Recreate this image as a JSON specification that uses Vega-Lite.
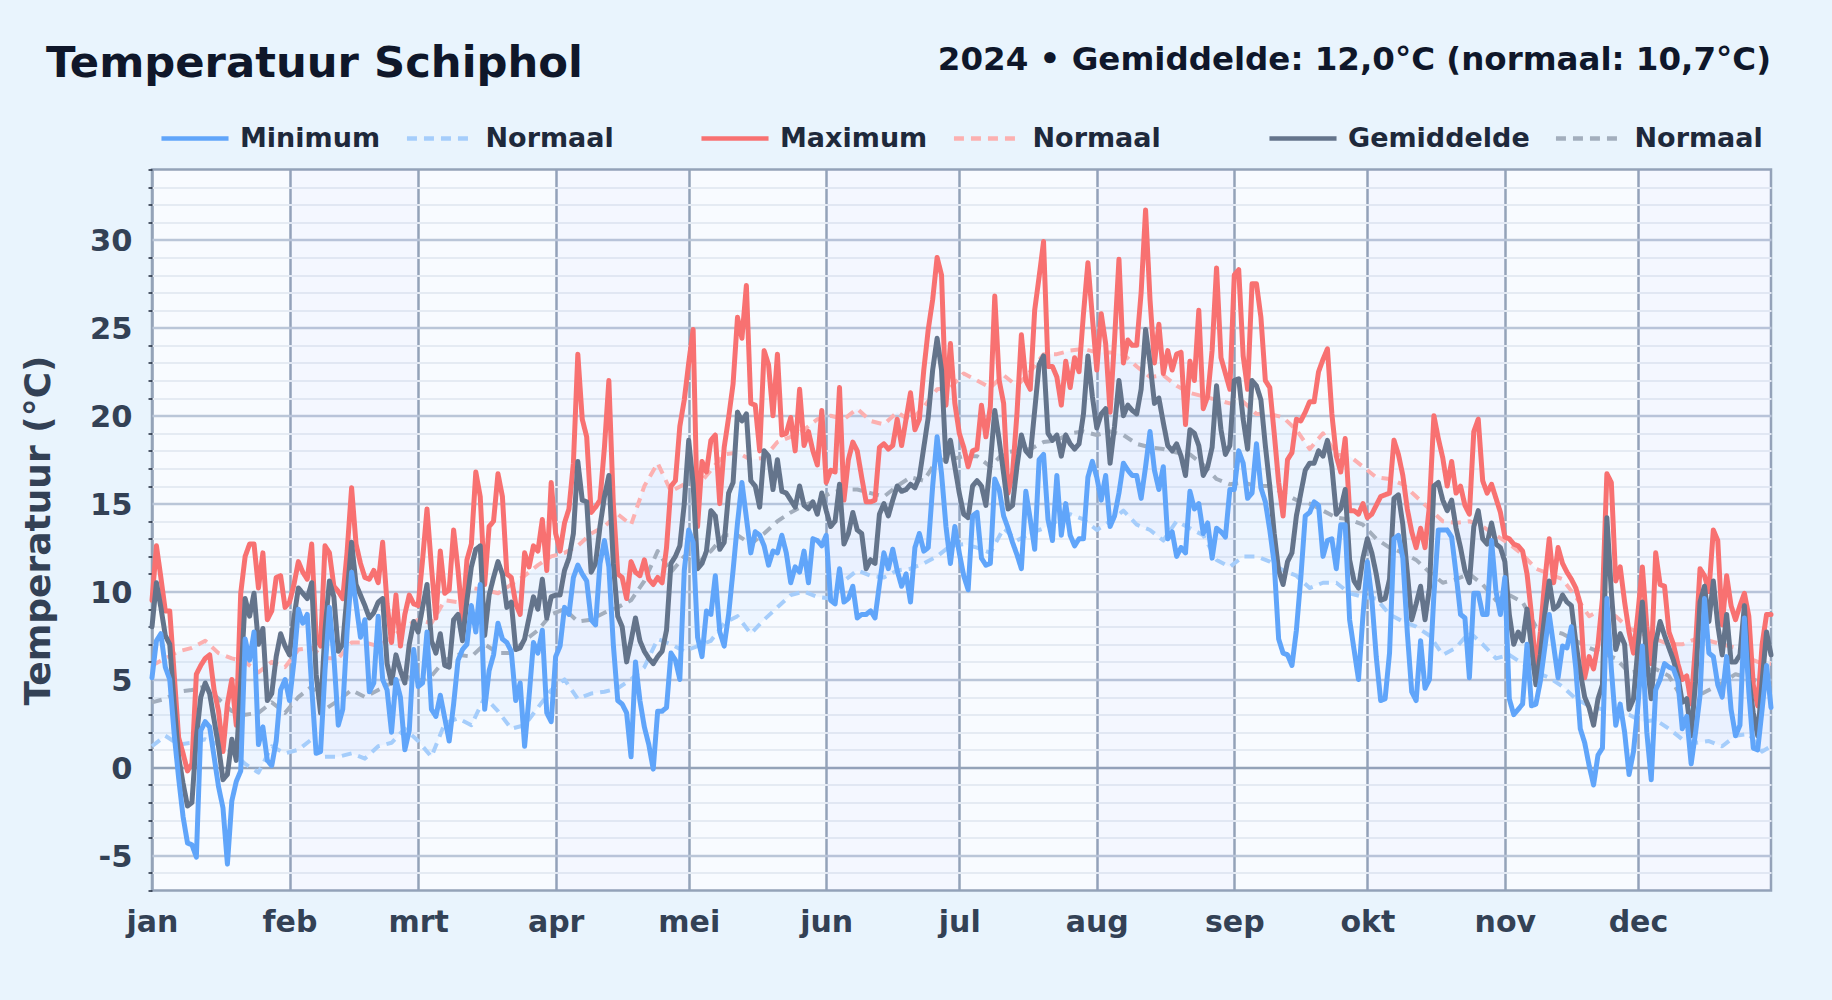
{"$schema":"https://vega.github.io/schema/vega-lite/v6.json","width":1619,"height":721,"autosize":{"type":"none"},"padding":{"left":152,"top":169.5,"right":61,"bottom":109.5},"background":"#e9f4fd","title":{"text":"Temperatuur Schiphol","anchor":"start","frame":"group","dx":-106,"offset":0,"dy":43,"font":"DejaVu Sans","fontSize":43.3,"fontWeight":"bold","color":"#0f172a"},"config":{"view":{"fill":"#f8fbff","stroke":"#94a3b8","strokeWidth":2.5},"font":"DejaVu Sans"},"datasets":{"maanden":[{"van":31,"tot":60},{"van":91,"tot":121},{"van":152,"tot":182},{"van":213,"tot":244},{"van":274,"tot":305},{"van":335,"tot":365}],"koptekst":[{"tekst":"2024 • Gemiddelde: 12,0°C (normaal: 10,7°C)"}],"normaal":[{"dag":0,"Normaal min":1.2,"Normaal max":5.8,"Normaal gem":3.7},{"dag":3,"Normaal min":1.8,"Normaal max":6.2,"Normaal gem":3.9},{"dag":6,"Normaal min":1.3,"Normaal max":6.6,"Normaal gem":4.3},{"dag":9,"Normaal min":1.4,"Normaal max":6.8,"Normaal gem":4.4},{"dag":12,"Normaal min":1.6,"Normaal max":7.2,"Normaal gem":4.6},{"dag":15,"Normaal min":1.3,"Normaal max":6.5,"Normaal gem":3.9},{"dag":18,"Normaal min":0.9,"Normaal max":6.2,"Normaal gem":3.2},{"dag":21,"Normaal min":0.2,"Normaal max":6,"Normaal gem":3},{"dag":24,"Normaal min":-0.3,"Normaal max":5.4,"Normaal gem":3.1},{"dag":27,"Normaal min":1.2,"Normaal max":6,"Normaal gem":3.7},{"dag":30,"Normaal min":0.8,"Normaal max":5.7,"Normaal gem":3.1},{"dag":33,"Normaal min":1,"Normaal max":6.7,"Normaal gem":4},{"dag":36,"Normaal min":1.6,"Normaal max":6.8,"Normaal gem":4.6},{"dag":39,"Normaal min":0.6,"Normaal max":6.2,"Normaal gem":3.3},{"dag":42,"Normaal min":0.6,"Normaal max":6.2,"Normaal gem":3.8},{"dag":45,"Normaal min":0.8,"Normaal max":7.1,"Normaal gem":4.4},{"dag":48,"Normaal min":0.5,"Normaal max":7.1,"Normaal gem":4},{"dag":51,"Normaal min":1.2,"Normaal max":6.9,"Normaal gem":4.4},{"dag":54,"Normaal min":1.4,"Normaal max":7.4,"Normaal gem":4.8},{"dag":57,"Normaal min":2.2,"Normaal max":8,"Normaal gem":5.2},{"dag":60,"Normaal min":1.5,"Normaal max":8.4,"Normaal gem":4.9},{"dag":63,"Normaal min":0.6,"Normaal max":8.2,"Normaal gem":5.2},{"dag":66,"Normaal min":2.5,"Normaal max":9.5,"Normaal gem":6.1},{"dag":69,"Normaal min":2.8,"Normaal max":9.4,"Normaal gem":6.4},{"dag":72,"Normaal min":2.4,"Normaal max":10.2,"Normaal gem":6.3},{"dag":75,"Normaal min":4,"Normaal max":10.1,"Normaal gem":7},{"dag":78,"Normaal min":3.2,"Normaal max":9.9,"Normaal gem":6.5},{"dag":81,"Normaal min":2.2,"Normaal max":10.4,"Normaal gem":6.5},{"dag":84,"Normaal min":2.4,"Normaal max":10.9,"Normaal gem":7.2},{"dag":87,"Normaal min":3.4,"Normaal max":11.5,"Normaal gem":7.8},{"dag":90,"Normaal min":4.4,"Normaal max":12,"Normaal gem":8.7},{"dag":93,"Normaal min":5,"Normaal max":12.2,"Normaal gem":9},{"dag":96,"Normaal min":3.9,"Normaal max":12.6,"Normaal gem":8.3},{"dag":99,"Normaal min":4.2,"Normaal max":13.3,"Normaal gem":8.4},{"dag":102,"Normaal min":4.3,"Normaal max":13.7,"Normaal gem":8.8},{"dag":105,"Normaal min":4.5,"Normaal max":14.4,"Normaal gem":9.1},{"dag":108,"Normaal min":5,"Normaal max":13.8,"Normaal gem":9.5},{"dag":111,"Normaal min":5.7,"Normaal max":16,"Normaal gem":10.6},{"dag":114,"Normaal min":7.3,"Normaal max":17.3,"Normaal gem":12.3},{"dag":117,"Normaal min":7,"Normaal max":15.7,"Normaal gem":11.1},{"dag":120,"Normaal min":6.6,"Normaal max":16.1,"Normaal gem":12},{"dag":123,"Normaal min":6.9,"Normaal max":16,"Normaal gem":11.6},{"dag":126,"Normaal min":7.2,"Normaal max":16.9,"Normaal gem":12.3},{"dag":129,"Normaal min":8.2,"Normaal max":17.8,"Normaal gem":13.2},{"dag":132,"Normaal min":8.6,"Normaal max":17.9,"Normaal gem":13.2},{"dag":135,"Normaal min":7.6,"Normaal max":17.5,"Normaal gem":12.7},{"dag":138,"Normaal min":8.4,"Normaal max":17.6,"Normaal gem":13.3},{"dag":141,"Normaal min":9.1,"Normaal max":18.5,"Normaal gem":14},{"dag":144,"Normaal min":9.8,"Normaal max":18.8,"Normaal gem":14.5},{"dag":147,"Normaal min":10,"Normaal max":19.2,"Normaal gem":14.9},{"dag":150,"Normaal min":9.7,"Normaal max":19.8,"Normaal gem":15.2},{"dag":153,"Normaal min":9.6,"Normaal max":20,"Normaal gem":15.6},{"dag":156,"Normaal min":10.6,"Normaal max":19.8,"Normaal gem":15.8},{"dag":159,"Normaal min":11.2,"Normaal max":20.4,"Normaal gem":15.8},{"dag":162,"Normaal min":10.9,"Normaal max":19.7,"Normaal gem":15.6},{"dag":165,"Normaal min":10.8,"Normaal max":19.5,"Normaal gem":15.4},{"dag":168,"Normaal min":11.2,"Normaal max":20.2,"Normaal gem":16},{"dag":171,"Normaal min":11.3,"Normaal max":19.7,"Normaal gem":16.5},{"dag":174,"Normaal min":11.6,"Normaal max":20.5,"Normaal gem":16.3},{"dag":177,"Normaal min":12,"Normaal max":21.5,"Normaal gem":17.5},{"dag":180,"Normaal min":12.6,"Normaal max":21.6,"Normaal gem":17.5},{"dag":183,"Normaal min":12.7,"Normaal max":22.4,"Normaal gem":17.7},{"dag":186,"Normaal min":12.5,"Normaal max":22,"Normaal gem":17.7},{"dag":189,"Normaal min":12.2,"Normaal max":21.6,"Normaal gem":17.1},{"dag":192,"Normaal min":13.6,"Normaal max":22.3,"Normaal gem":17.9},{"dag":195,"Normaal min":12.9,"Normaal max":21.7,"Normaal gem":18},{"dag":198,"Normaal min":13.3,"Normaal max":22.5,"Normaal gem":18.1},{"dag":201,"Normaal min":13.6,"Normaal max":23.5,"Normaal gem":18.5},{"dag":204,"Normaal min":14,"Normaal max":23.5,"Normaal gem":18.6},{"dag":207,"Normaal min":14.4,"Normaal max":23.7,"Normaal gem":19},{"dag":210,"Normaal min":14.1,"Normaal max":23.8,"Normaal gem":19.1},{"dag":213,"Normaal min":13.5,"Normaal max":23.6,"Normaal gem":18.9},{"dag":216,"Normaal min":14,"Normaal max":23.6,"Normaal gem":19.1},{"dag":219,"Normaal min":14.6,"Normaal max":23.5,"Normaal gem":18.9},{"dag":222,"Normaal min":13.8,"Normaal max":22.8,"Normaal gem":18.4},{"dag":225,"Normaal min":13.5,"Normaal max":22.2,"Normaal gem":18.2},{"dag":228,"Normaal min":12.9,"Normaal max":22.3,"Normaal gem":18.1},{"dag":231,"Normaal min":14,"Normaal max":21.7,"Normaal gem":17.9},{"dag":234,"Normaal min":13.6,"Normaal max":21.3,"Normaal gem":17.8},{"dag":237,"Normaal min":13.2,"Normaal max":21.1,"Normaal gem":17.2},{"dag":240,"Normaal min":11.8,"Normaal max":20.9,"Normaal gem":16.4},{"dag":243,"Normaal min":11.4,"Normaal max":20.7,"Normaal gem":16.1},{"dag":246,"Normaal min":12,"Normaal max":20.8,"Normaal gem":16.2},{"dag":249,"Normaal min":12,"Normaal max":20.1,"Normaal gem":16},{"dag":252,"Normaal min":11.7,"Normaal max":20.1,"Normaal gem":16},{"dag":255,"Normaal min":11.2,"Normaal max":19.9,"Normaal gem":15.6},{"dag":258,"Normaal min":10.9,"Normaal max":19.2,"Normaal gem":15.2},{"dag":261,"Normaal min":10.2,"Normaal max":18.1,"Normaal gem":15},{"dag":264,"Normaal min":10.5,"Normaal max":19,"Normaal gem":14.6},{"dag":267,"Normaal min":10.5,"Normaal max":17.8,"Normaal gem":14.2},{"dag":270,"Normaal min":9.9,"Normaal max":17.7,"Normaal gem":14.1},{"dag":273,"Normaal min":9.7,"Normaal max":17.1,"Normaal gem":13.8},{"dag":276,"Normaal min":9.6,"Normaal max":16.5,"Normaal gem":13},{"dag":279,"Normaal min":8.7,"Normaal max":16.4,"Normaal gem":12.5},{"dag":282,"Normaal min":8.3,"Normaal max":16.1,"Normaal gem":12.2},{"dag":285,"Normaal min":8,"Normaal max":15.4,"Normaal gem":11.8},{"dag":288,"Normaal min":7.5,"Normaal max":14.7,"Normaal gem":11.1},{"dag":291,"Normaal min":6.4,"Normaal max":14,"Normaal gem":10.5},{"dag":294,"Normaal min":6.8,"Normaal max":13.9,"Normaal gem":10.7},{"dag":297,"Normaal min":7.7,"Normaal max":14,"Normaal gem":11},{"dag":300,"Normaal min":7,"Normaal max":13.7,"Normaal gem":10.4},{"dag":303,"Normaal min":6.2,"Normaal max":13.2,"Normaal gem":9.5},{"dag":306,"Normaal min":6.4,"Normaal max":12.7,"Normaal gem":9.8},{"dag":309,"Normaal min":5.9,"Normaal max":12.1,"Normaal gem":9.4},{"dag":312,"Normaal min":5.4,"Normaal max":11.3,"Normaal gem":8},{"dag":315,"Normaal min":5.1,"Normaal max":11,"Normaal gem":7.8},{"dag":318,"Normaal min":4.6,"Normaal max":10.7,"Normaal gem":7.6},{"dag":321,"Normaal min":3.9,"Normaal max":9.7,"Normaal gem":7.2},{"dag":324,"Normaal min":3.5,"Normaal max":8.6,"Normaal gem":6.8},{"dag":327,"Normaal min":3.3,"Normaal max":9,"Normaal gem":6.5},{"dag":330,"Normaal min":3.2,"Normaal max":8.6,"Normaal gem":6.2},{"dag":333,"Normaal min":3,"Normaal max":7.9,"Normaal gem":5.4},{"dag":336,"Normaal min":2.6,"Normaal max":7.6,"Normaal gem":5.5},{"dag":339,"Normaal min":2.7,"Normaal max":7.3,"Normaal gem":5.6},{"dag":342,"Normaal min":2.2,"Normaal max":7,"Normaal gem":5.2},{"dag":345,"Normaal min":1.6,"Normaal max":7,"Normaal gem":3.9},{"dag":348,"Normaal min":1.4,"Normaal max":7.3,"Normaal gem":4},{"dag":351,"Normaal min":1.5,"Normaal max":7.2,"Normaal gem":4.4},{"dag":354,"Normaal min":1.2,"Normaal max":7,"Normaal gem":4.8},{"dag":357,"Normaal min":1.8,"Normaal max":6.8,"Normaal gem":5.3},{"dag":360,"Normaal min":1.9,"Normaal max":6.2,"Normaal gem":5.1},{"dag":363,"Normaal min":0.9,"Normaal max":5.9,"Normaal gem":4.8},{"dag":365,"Normaal min":1.2,"Normaal max":5.9,"Normaal gem":4.6}],"metingen":[
{"dag":0,"Minimum":5.1,"Maximum":9.5,"Gemiddelde":8},{"dag":1,"Minimum":7.2,"Maximum":12.6,"Gemiddelde":10.5},{"dag":2,"Minimum":7.6,"Maximum":10.8,"Gemiddelde":9.1},{"dag":3,"Minimum":5.7,"Maximum":8.9,"Gemiddelde":7.5},{"dag":4,"Minimum":5,"Maximum":8.9,"Gemiddelde":7},{"dag":5,"Minimum":1.9,"Maximum":5.3,"Gemiddelde":3.6},{"dag":6,"Minimum":-0.6,"Maximum":1.7,"Gemiddelde":0.6},{"dag":7,"Minimum":-2.8,"Maximum":0.8,"Gemiddelde":-0.9},{"dag":8,"Minimum":-4.3,"Maximum":-0.2,"Gemiddelde":-2.2},{"dag":9,"Minimum":-4.4,"Maximum":0.2,"Gemiddelde":-2},{"dag":10,"Minimum":-5.1,"Maximum":5.3,"Gemiddelde":1.7},{"dag":11,"Minimum":2.1,"Maximum":5.8,"Gemiddelde":4},{"dag":12,"Minimum":2.6,"Maximum":6.2,"Gemiddelde":4.8},{"dag":13,"Minimum":2.3,"Maximum":6.4,"Gemiddelde":4.2},{"dag":14,"Minimum":0.6,"Maximum":4.4,"Gemiddelde":2.7},{"dag":15,"Minimum":-1.1,"Maximum":3.2,"Gemiddelde":1.2},{"dag":16,"Minimum":-2.3,"Maximum":0.9,"Gemiddelde":-0.7},{"dag":17,"Minimum":-5.5,"Maximum":3.6,"Gemiddelde":-0.4},{"dag":18,"Minimum":-1.9,"Maximum":5,"Gemiddelde":1.6},{"dag":19,"Minimum":-0.8,"Maximum":2.4,"Gemiddelde":0.4},
{"dag":20,"Minimum":-0.2,"Maximum":9.9,"Gemiddelde":4.8},{"dag":21,"Minimum":7.3,"Maximum":12,"Gemiddelde":9.6},{"dag":22,"Minimum":6.1,"Maximum":12.7,"Gemiddelde":8.6},{"dag":23,"Minimum":7.7,"Maximum":12.7,"Gemiddelde":9.9},{"dag":24,"Minimum":1.3,"Maximum":10.2,"Gemiddelde":7},{"dag":25,"Minimum":2.3,"Maximum":12.2,"Gemiddelde":7.9},{"dag":26,"Minimum":0.4,"Maximum":8.4,"Gemiddelde":3.8},{"dag":27,"Minimum":0.1,"Maximum":8.9,"Gemiddelde":4.2},{"dag":28,"Minimum":1.5,"Maximum":10.8,"Gemiddelde":6.3},{"dag":29,"Minimum":4.4,"Maximum":10.9,"Gemiddelde":7.6},{"dag":30,"Minimum":5,"Maximum":9.1,"Gemiddelde":6.9},{"dag":31,"Minimum":3.8,"Maximum":9.4,"Gemiddelde":6.4},{"dag":32,"Minimum":6,"Maximum":10.4,"Gemiddelde":8.5},{"dag":33,"Minimum":9,"Maximum":11.7,"Gemiddelde":10.2},{"dag":34,"Minimum":8.2,"Maximum":11.1,"Gemiddelde":9.9},{"dag":35,"Minimum":8.7,"Maximum":10.7,"Gemiddelde":9.6},{"dag":36,"Minimum":4.6,"Maximum":12.7,"Gemiddelde":10.5},{"dag":37,"Minimum":0.8,"Maximum":7.4,"Gemiddelde":5.3},{"dag":38,"Minimum":0.9,"Maximum":6.9,"Gemiddelde":3.1},{"dag":39,"Minimum":5.5,"Maximum":12.6,"Gemiddelde":7.8},
{"dag":40,"Minimum":9.1,"Maximum":12.2,"Gemiddelde":10.6},{"dag":41,"Minimum":6.3,"Maximum":10.3,"Gemiddelde":9.7},{"dag":42,"Minimum":2.4,"Maximum":10,"Gemiddelde":6.6},{"dag":43,"Minimum":3.3,"Maximum":9.6,"Gemiddelde":7},{"dag":44,"Minimum":7.8,"Maximum":12.3,"Gemiddelde":9.9},{"dag":45,"Minimum":11.1,"Maximum":15.9,"Gemiddelde":12.8},{"dag":46,"Minimum":9.3,"Maximum":12.7,"Gemiddelde":10.4},{"dag":47,"Minimum":7.4,"Maximum":11.6,"Gemiddelde":9.8},{"dag":48,"Minimum":8.4,"Maximum":10.8,"Gemiddelde":9.2},{"dag":49,"Minimum":4.3,"Maximum":10.7,"Gemiddelde":8.5},{"dag":50,"Minimum":4.8,"Maximum":11.2,"Gemiddelde":8.8},{"dag":51,"Minimum":8.6,"Maximum":10.5,"Gemiddelde":9.4},{"dag":52,"Minimum":5,"Maximum":12.8,"Gemiddelde":9.6},{"dag":53,"Minimum":4.4,"Maximum":9.3,"Gemiddelde":5.9},{"dag":54,"Minimum":2,"Maximum":7.1,"Gemiddelde":4.8},{"dag":55,"Minimum":5,"Maximum":9.8,"Gemiddelde":6.4},{"dag":56,"Minimum":4,"Maximum":6.9,"Gemiddelde":5.5},{"dag":57,"Minimum":1,"Maximum":8.7,"Gemiddelde":4.8},{"dag":58,"Minimum":2.1,"Maximum":9.8,"Gemiddelde":7},{"dag":59,"Minimum":6.7,"Maximum":9.3,"Gemiddelde":8.3},
{"dag":60,"Minimum":4.6,"Maximum":9.2,"Gemiddelde":7.7},{"dag":61,"Minimum":4.8,"Maximum":11.8,"Gemiddelde":9.1},{"dag":62,"Minimum":7.7,"Maximum":14.7,"Gemiddelde":10.4},{"dag":63,"Minimum":3.3,"Maximum":11.4,"Gemiddelde":7.2},{"dag":64,"Minimum":2.9,"Maximum":8.5,"Gemiddelde":6.5},{"dag":65,"Minimum":4.1,"Maximum":12.3,"Gemiddelde":7.6},{"dag":66,"Minimum":2.8,"Maximum":9.9,"Gemiddelde":5.8},{"dag":67,"Minimum":1.5,"Maximum":10.1,"Gemiddelde":5.7},{"dag":68,"Minimum":3.6,"Maximum":13.5,"Gemiddelde":8.4},{"dag":69,"Minimum":6.1,"Maximum":11.2,"Gemiddelde":8.7},{"dag":70,"Minimum":6.7,"Maximum":8.4,"Gemiddelde":7.2},{"dag":71,"Minimum":7,"Maximum":11.8,"Gemiddelde":9.5},{"dag":72,"Minimum":9.2,"Maximum":12.7,"Gemiddelde":11.4},{"dag":73,"Minimum":7.7,"Maximum":16.8,"Gemiddelde":12.4},{"dag":74,"Minimum":10.4,"Maximum":15.4,"Gemiddelde":12.6},{"dag":75,"Minimum":3.3,"Maximum":10.4,"Gemiddelde":7.5},{"dag":76,"Minimum":5.5,"Maximum":13.7,"Gemiddelde":9.8},{"dag":77,"Minimum":6.4,"Maximum":14,"Gemiddelde":10.8},{"dag":78,"Minimum":8.2,"Maximum":16.7,"Gemiddelde":11.7},{"dag":79,"Minimum":7.3,"Maximum":15.4,"Gemiddelde":11},
{"dag":80,"Minimum":7.1,"Maximum":11,"Gemiddelde":9.1},{"dag":81,"Minimum":6.6,"Maximum":10.8,"Gemiddelde":9.4},{"dag":82,"Minimum":3.8,"Maximum":9.3,"Gemiddelde":6.7},{"dag":83,"Minimum":4.8,"Maximum":8.7,"Gemiddelde":6.8},{"dag":84,"Minimum":1.2,"Maximum":12.2,"Gemiddelde":7.3},{"dag":85,"Minimum":4,"Maximum":11.4,"Gemiddelde":8.5},{"dag":86,"Minimum":7.1,"Maximum":12.6,"Gemiddelde":9.7},{"dag":87,"Minimum":6.5,"Maximum":12.3,"Gemiddelde":9},{"dag":88,"Minimum":7.8,"Maximum":14.1,"Gemiddelde":10.7},{"dag":89,"Minimum":3.1,"Maximum":11.2,"Gemiddelde":8.5},{"dag":90,"Minimum":2.6,"Maximum":16.2,"Gemiddelde":9.7},{"dag":91,"Minimum":6.3,"Maximum":13.3,"Gemiddelde":9.8},{"dag":92,"Minimum":6.9,"Maximum":12.3,"Gemiddelde":9.8},{"dag":93,"Minimum":9.1,"Maximum":13.9,"Gemiddelde":11.2},{"dag":94,"Minimum":8.7,"Maximum":14.7,"Gemiddelde":11.9},{"dag":95,"Minimum":10.8,"Maximum":17.3,"Gemiddelde":13.3},{"dag":96,"Minimum":11.5,"Maximum":23.5,"Gemiddelde":17.4},{"dag":97,"Minimum":11,"Maximum":19.8,"Gemiddelde":15.2},{"dag":98,"Minimum":10.6,"Maximum":18.8,"Gemiddelde":15.1},{"dag":99,"Minimum":8.4,"Maximum":14.5,"Gemiddelde":11.1},
{"dag":100,"Minimum":8.1,"Maximum":14.8,"Gemiddelde":11.6},{"dag":101,"Minimum":11.6,"Maximum":15.2,"Gemiddelde":13.7},{"dag":102,"Minimum":12.9,"Maximum":18.2,"Gemiddelde":15.4},{"dag":103,"Minimum":11.4,"Maximum":22,"Gemiddelde":16.6},{"dag":104,"Minimum":7,"Maximum":15,"Gemiddelde":11.6},{"dag":105,"Minimum":3.8,"Maximum":11,"Gemiddelde":8.6},{"dag":106,"Minimum":3.6,"Maximum":10.8,"Gemiddelde":8},{"dag":107,"Minimum":3.1,"Maximum":9.6,"Gemiddelde":6},{"dag":108,"Minimum":0.6,"Maximum":11.7,"Gemiddelde":7.2},{"dag":109,"Minimum":6,"Maximum":11.1,"Gemiddelde":8.5},{"dag":110,"Minimum":3.8,"Maximum":10.9,"Gemiddelde":7.2},{"dag":111,"Minimum":2.3,"Maximum":11.8,"Gemiddelde":6.6},{"dag":112,"Minimum":1.3,"Maximum":10.7,"Gemiddelde":6.2},{"dag":113,"Minimum":-0.1,"Maximum":10.4,"Gemiddelde":5.9},{"dag":114,"Minimum":3.2,"Maximum":10.8,"Gemiddelde":6.3},{"dag":115,"Minimum":3.2,"Maximum":10.5,"Gemiddelde":6.6},{"dag":116,"Minimum":3.4,"Maximum":12.5,"Gemiddelde":7.8},{"dag":117,"Minimum":6.5,"Maximum":16,"Gemiddelde":11.6},{"dag":118,"Minimum":6.1,"Maximum":16.3,"Gemiddelde":12},{"dag":119,"Minimum":5,"Maximum":19.4,"Gemiddelde":12.6},
{"dag":120,"Minimum":11.2,"Maximum":20.9,"Gemiddelde":15},{"dag":121,"Minimum":13.5,"Maximum":23,"Gemiddelde":18.6},{"dag":122,"Minimum":12.8,"Maximum":24.9,"Gemiddelde":16.1},{"dag":123,"Minimum":7.4,"Maximum":13.7,"Gemiddelde":11.3},{"dag":124,"Minimum":6.3,"Maximum":17.4,"Gemiddelde":11.6},{"dag":125,"Minimum":8.9,"Maximum":16.8,"Gemiddelde":12.3},{"dag":126,"Minimum":8.7,"Maximum":18.6,"Gemiddelde":14.6},{"dag":127,"Minimum":10.9,"Maximum":18.9,"Gemiddelde":14.3},{"dag":128,"Minimum":7.7,"Maximum":15,"Gemiddelde":12.4},{"dag":129,"Minimum":6.9,"Maximum":18.2,"Gemiddelde":12.8},{"dag":130,"Minimum":8.7,"Maximum":19.9,"Gemiddelde":15.6},{"dag":131,"Minimum":11.2,"Maximum":21.8,"Gemiddelde":16.2},{"dag":132,"Minimum":13.9,"Maximum":25.6,"Gemiddelde":20.2},{"dag":133,"Minimum":16.2,"Maximum":24.4,"Gemiddelde":19.7},{"dag":134,"Minimum":14.2,"Maximum":27.4,"Gemiddelde":20.1},{"dag":135,"Minimum":12.2,"Maximum":20.7,"Gemiddelde":16.3},{"dag":136,"Minimum":13.4,"Maximum":20.6,"Gemiddelde":16},{"dag":137,"Minimum":13.2,"Maximum":18,"Gemiddelde":14.8},{"dag":138,"Minimum":12.6,"Maximum":23.7,"Gemiddelde":18},{"dag":139,"Minimum":11.5,"Maximum":22.9,"Gemiddelde":17.7},
{"dag":140,"Minimum":12.3,"Maximum":20,"Gemiddelde":15.8},{"dag":141,"Minimum":12.2,"Maximum":23.5,"Gemiddelde":17.5},{"dag":142,"Minimum":13.2,"Maximum":18.9,"Gemiddelde":15.7},{"dag":143,"Minimum":12.2,"Maximum":19,"Gemiddelde":15.6},{"dag":144,"Minimum":10.5,"Maximum":19.9,"Gemiddelde":15.2},{"dag":145,"Minimum":11.4,"Maximum":18,"Gemiddelde":14.8},{"dag":146,"Minimum":11.1,"Maximum":21.5,"Gemiddelde":16},{"dag":147,"Minimum":12.3,"Maximum":18.3,"Gemiddelde":14.9},{"dag":148,"Minimum":10.5,"Maximum":19.1,"Gemiddelde":14.7},{"dag":149,"Minimum":13,"Maximum":18,"Gemiddelde":15.1},{"dag":150,"Minimum":12.9,"Maximum":17.2,"Gemiddelde":14.4},{"dag":151,"Minimum":12.6,"Maximum":20.3,"Gemiddelde":15.6},{"dag":152,"Minimum":13.2,"Maximum":16.2,"Gemiddelde":14.6},{"dag":153,"Minimum":9.5,"Maximum":16.9,"Gemiddelde":13.7},{"dag":154,"Minimum":9.3,"Maximum":16.8,"Gemiddelde":14},{"dag":155,"Minimum":11.3,"Maximum":21.6,"Gemiddelde":16.1},{"dag":156,"Minimum":9.4,"Maximum":15.2,"Gemiddelde":12.7},{"dag":157,"Minimum":9.6,"Maximum":17.5,"Gemiddelde":13.3},{"dag":158,"Minimum":10.3,"Maximum":18.5,"Gemiddelde":14.5},{"dag":159,"Minimum":8.5,"Maximum":18,"Gemiddelde":13.5},
{"dag":160,"Minimum":8.7,"Maximum":16.5,"Gemiddelde":13.3},{"dag":161,"Minimum":8.7,"Maximum":15.1,"Gemiddelde":11.3},{"dag":162,"Minimum":8.9,"Maximum":15.1,"Gemiddelde":11.8},{"dag":163,"Minimum":8.5,"Maximum":15.2,"Gemiddelde":11.6},{"dag":164,"Minimum":10.4,"Maximum":18.2,"Gemiddelde":14.4},{"dag":165,"Minimum":12.2,"Maximum":18.4,"Gemiddelde":15},{"dag":166,"Minimum":11.3,"Maximum":18.1,"Gemiddelde":14.3},{"dag":167,"Minimum":12.4,"Maximum":18.3,"Gemiddelde":15.2},{"dag":168,"Minimum":11.2,"Maximum":19.8,"Gemiddelde":16},{"dag":169,"Minimum":10.3,"Maximum":18.3,"Gemiddelde":15.7},{"dag":170,"Minimum":11,"Maximum":19.8,"Gemiddelde":15.8},{"dag":171,"Minimum":9.4,"Maximum":21.3,"Gemiddelde":16.1},{"dag":172,"Minimum":12.5,"Maximum":19.2,"Gemiddelde":15.9},{"dag":173,"Minimum":13.3,"Maximum":19.8,"Gemiddelde":16.5},{"dag":174,"Minimum":12.3,"Maximum":22.6,"Gemiddelde":18.2},{"dag":175,"Minimum":12.5,"Maximum":24.9,"Gemiddelde":19.9},{"dag":176,"Minimum":16,"Maximum":26.6,"Gemiddelde":22.6},{"dag":177,"Minimum":18.8,"Maximum":29,"Gemiddelde":24.4},{"dag":178,"Minimum":16.7,"Maximum":28,"Gemiddelde":22.6},{"dag":179,"Minimum":13.7,"Maximum":20.6,"Gemiddelde":17.4},
{"dag":180,"Minimum":11.6,"Maximum":24.1,"Gemiddelde":18.6},{"dag":181,"Minimum":13.7,"Maximum":20.7,"Gemiddelde":17.1},{"dag":182,"Minimum":12.2,"Maximum":19,"Gemiddelde":15.6},{"dag":183,"Minimum":10.9,"Maximum":18.2,"Gemiddelde":14.4},{"dag":184,"Minimum":10.1,"Maximum":17.1,"Gemiddelde":14.2},{"dag":185,"Minimum":14.3,"Maximum":18,"Gemiddelde":16},{"dag":186,"Minimum":14.5,"Maximum":18.1,"Gemiddelde":16.3},{"dag":187,"Minimum":11.9,"Maximum":20.6,"Gemiddelde":16},{"dag":188,"Minimum":11.5,"Maximum":18.8,"Gemiddelde":14.9},{"dag":189,"Minimum":11.6,"Maximum":20.5,"Gemiddelde":17.3},{"dag":190,"Minimum":16.4,"Maximum":26.8,"Gemiddelde":20.3},{"dag":191,"Minimum":15.8,"Maximum":22,"Gemiddelde":18.6},{"dag":192,"Minimum":14.3,"Maximum":20.7,"Gemiddelde":16.7},{"dag":193,"Minimum":13.6,"Maximum":15.6,"Gemiddelde":14.7},{"dag":194,"Minimum":12.8,"Maximum":16.7,"Gemiddelde":14.9},{"dag":195,"Minimum":12.1,"Maximum":20.1,"Gemiddelde":17.1},{"dag":196,"Minimum":11.3,"Maximum":24.6,"Gemiddelde":18.9},{"dag":197,"Minimum":15.7,"Maximum":22,"Gemiddelde":18},{"dag":198,"Minimum":14.1,"Maximum":21.5,"Gemiddelde":17.7},{"dag":199,"Minimum":12.4,"Maximum":26,"Gemiddelde":20.3},
{"dag":200,"Minimum":17.5,"Maximum":27.9,"Gemiddelde":22.9},{"dag":201,"Minimum":17.8,"Maximum":29.9,"Gemiddelde":23.4},{"dag":202,"Minimum":14.1,"Maximum":22.8,"Gemiddelde":19},{"dag":203,"Minimum":12.9,"Maximum":22.8,"Gemiddelde":18.6},{"dag":204,"Minimum":16.6,"Maximum":22.2,"Gemiddelde":18.9},{"dag":205,"Minimum":13.2,"Maximum":20.6,"Gemiddelde":17.7},{"dag":206,"Minimum":15,"Maximum":23.1,"Gemiddelde":18.9},{"dag":207,"Minimum":13.2,"Maximum":21.6,"Gemiddelde":18.4},{"dag":208,"Minimum":12.6,"Maximum":23.3,"Gemiddelde":18.1},{"dag":209,"Minimum":13,"Maximum":22.5,"Gemiddelde":18.4},{"dag":210,"Minimum":13,"Maximum":25.8,"Gemiddelde":20.1},{"dag":211,"Minimum":16.5,"Maximum":28.7,"Gemiddelde":23.4},{"dag":212,"Minimum":17.4,"Maximum":25.6,"Gemiddelde":21.1},{"dag":213,"Minimum":16.5,"Maximum":22.6,"Gemiddelde":19.3},{"dag":214,"Minimum":15.2,"Maximum":25.8,"Gemiddelde":20.1},{"dag":215,"Minimum":16.6,"Maximum":24.1,"Gemiddelde":20.4},{"dag":216,"Minimum":13.7,"Maximum":20.2,"Gemiddelde":17.3},{"dag":217,"Minimum":14.3,"Maximum":24.3,"Gemiddelde":19.4},{"dag":218,"Minimum":15.6,"Maximum":28.9,"Gemiddelde":22},{"dag":219,"Minimum":17.3,"Maximum":23,"Gemiddelde":20},
{"dag":220,"Minimum":16.9,"Maximum":24.3,"Gemiddelde":20.6},{"dag":221,"Minimum":16.6,"Maximum":24,"Gemiddelde":20.3},{"dag":222,"Minimum":16.6,"Maximum":24,"Gemiddelde":20.1},{"dag":223,"Minimum":15.3,"Maximum":27,"Gemiddelde":21.5},{"dag":224,"Minimum":17.1,"Maximum":31.7,"Gemiddelde":24.9},{"dag":225,"Minimum":19.1,"Maximum":26.6,"Gemiddelde":23},{"dag":226,"Minimum":16.9,"Maximum":23,"Gemiddelde":20.7},{"dag":227,"Minimum":15.8,"Maximum":25.2,"Gemiddelde":21},{"dag":228,"Minimum":17.1,"Maximum":22.4,"Gemiddelde":19.6},{"dag":229,"Minimum":13,"Maximum":23.7,"Gemiddelde":18.3},{"dag":230,"Minimum":13.4,"Maximum":22.6,"Gemiddelde":18},{"dag":231,"Minimum":12,"Maximum":23.5,"Gemiddelde":18.4},{"dag":232,"Minimum":12.5,"Maximum":23.6,"Gemiddelde":17.7},{"dag":233,"Minimum":12.2,"Maximum":19.5,"Gemiddelde":16.6},{"dag":234,"Minimum":15.7,"Maximum":23.1,"Gemiddelde":19.2},{"dag":235,"Minimum":14.7,"Maximum":22,"Gemiddelde":19},{"dag":236,"Minimum":15,"Maximum":26,"Gemiddelde":18.3},{"dag":237,"Minimum":13.3,"Maximum":20.4,"Gemiddelde":16.6},{"dag":238,"Minimum":13.9,"Maximum":21.1,"Gemiddelde":17.1},{"dag":239,"Minimum":11.9,"Maximum":23.7,"Gemiddelde":18.2},
{"dag":240,"Minimum":13.6,"Maximum":28.4,"Gemiddelde":21.7},{"dag":241,"Minimum":13.4,"Maximum":23.3,"Gemiddelde":19.2},{"dag":242,"Minimum":13.1,"Maximum":22.4,"Gemiddelde":17.8},{"dag":243,"Minimum":15.8,"Maximum":21.5,"Gemiddelde":18.3},{"dag":244,"Minimum":15.8,"Maximum":28,"Gemiddelde":22},{"dag":245,"Minimum":18,"Maximum":28.3,"Gemiddelde":22.1},{"dag":246,"Minimum":17.3,"Maximum":23.4,"Gemiddelde":19.8},{"dag":247,"Minimum":15.3,"Maximum":21.5,"Gemiddelde":18.1},{"dag":248,"Minimum":15.6,"Maximum":27.5,"Gemiddelde":22},{"dag":249,"Minimum":18.4,"Maximum":27.5,"Gemiddelde":21.7},{"dag":250,"Minimum":15.9,"Maximum":25.6,"Gemiddelde":20.9},{"dag":251,"Minimum":15.1,"Maximum":22,"Gemiddelde":18.3},{"dag":252,"Minimum":13.5,"Maximum":21.6,"Gemiddelde":16},{"dag":253,"Minimum":11.6,"Maximum":19,"Gemiddelde":13.3},{"dag":254,"Minimum":7.3,"Maximum":16.2,"Gemiddelde":11.2},{"dag":255,"Minimum":6.5,"Maximum":14.3,"Gemiddelde":10.4},{"dag":256,"Minimum":6.4,"Maximum":17.5,"Gemiddelde":11.7},{"dag":257,"Minimum":5.8,"Maximum":17.9,"Gemiddelde":12.2},{"dag":258,"Minimum":7.8,"Maximum":19.8,"Gemiddelde":14.3},{"dag":259,"Minimum":10.8,"Maximum":19.7,"Gemiddelde":15.6},
{"dag":260,"Minimum":14.3,"Maximum":20.2,"Gemiddelde":16.9},{"dag":261,"Minimum":14.5,"Maximum":20.8,"Gemiddelde":17.3},{"dag":262,"Minimum":15.1,"Maximum":20.8,"Gemiddelde":17.3},{"dag":263,"Minimum":14.9,"Maximum":22.5,"Gemiddelde":18},{"dag":264,"Minimum":12,"Maximum":23.2,"Gemiddelde":17.7},{"dag":265,"Minimum":12.9,"Maximum":23.8,"Gemiddelde":18.6},{"dag":266,"Minimum":13,"Maximum":20.1,"Gemiddelde":17.1},{"dag":267,"Minimum":11.3,"Maximum":17.7,"Gemiddelde":14.4},{"dag":268,"Minimum":13.8,"Maximum":16.8,"Gemiddelde":14.7},{"dag":269,"Minimum":13.8,"Maximum":18.7,"Gemiddelde":15.8},{"dag":270,"Minimum":8.4,"Maximum":14.6,"Gemiddelde":11.8},{"dag":271,"Minimum":6.7,"Maximum":14.6,"Gemiddelde":10.6},{"dag":272,"Minimum":5,"Maximum":14.4,"Gemiddelde":10.2},{"dag":273,"Minimum":8.6,"Maximum":15,"Gemiddelde":11.9},{"dag":274,"Minimum":11.7,"Maximum":14.2,"Gemiddelde":13},{"dag":275,"Minimum":9.6,"Maximum":14.4,"Gemiddelde":12.2},{"dag":276,"Minimum":6.3,"Maximum":14.9,"Gemiddelde":11},{"dag":277,"Minimum":3.8,"Maximum":15.4,"Gemiddelde":9.5},{"dag":278,"Minimum":3.9,"Maximum":15.5,"Gemiddelde":9.6},{"dag":279,"Minimum":6.5,"Maximum":15.6,"Gemiddelde":10.7},
{"dag":280,"Minimum":13,"Maximum":18.6,"Gemiddelde":15.3},{"dag":281,"Minimum":13.2,"Maximum":17.8,"Gemiddelde":15.5},{"dag":282,"Minimum":11.9,"Maximum":16.6,"Gemiddelde":13.8},{"dag":283,"Minimum":7.7,"Maximum":14.7,"Gemiddelde":11.1},{"dag":284,"Minimum":4.3,"Maximum":13.4,"Gemiddelde":8.4},{"dag":285,"Minimum":3.8,"Maximum":12.5,"Gemiddelde":9.3},{"dag":286,"Minimum":7.2,"Maximum":13.6,"Gemiddelde":10.3},{"dag":287,"Minimum":4.5,"Maximum":12.5,"Gemiddelde":8.4},{"dag":288,"Minimum":5,"Maximum":14.9,"Gemiddelde":10.2},{"dag":289,"Minimum":9.8,"Maximum":20,"Gemiddelde":16},{"dag":290,"Minimum":13.5,"Maximum":18.7,"Gemiddelde":16.2},{"dag":291,"Minimum":13.5,"Maximum":17.6,"Gemiddelde":15.2},{"dag":292,"Minimum":13.5,"Maximum":16,"Gemiddelde":14.6},{"dag":293,"Minimum":13.1,"Maximum":17.4,"Gemiddelde":15.2},{"dag":294,"Minimum":11,"Maximum":15.6,"Gemiddelde":13.6},{"dag":295,"Minimum":8.7,"Maximum":16,"Gemiddelde":12.5},{"dag":296,"Minimum":8.5,"Maximum":14.9,"Gemiddelde":11.2},{"dag":297,"Minimum":5.1,"Maximum":14.4,"Gemiddelde":10.5},{"dag":298,"Minimum":9.9,"Maximum":19.1,"Gemiddelde":13.7},{"dag":299,"Minimum":9.9,"Maximum":19.8,"Gemiddelde":14.6},
{"dag":300,"Minimum":8.7,"Maximum":16.3,"Gemiddelde":13},{"dag":301,"Minimum":8.7,"Maximum":15.6,"Gemiddelde":12.7},{"dag":302,"Minimum":12.9,"Maximum":16.1,"Gemiddelde":13.9},{"dag":303,"Minimum":10,"Maximum":15.3,"Gemiddelde":12.7},{"dag":304,"Minimum":8.7,"Maximum":14.5,"Gemiddelde":12.5},{"dag":305,"Minimum":10.8,"Maximum":13.1,"Gemiddelde":11.7},{"dag":306,"Minimum":3.9,"Maximum":13,"Gemiddelde":8.7},{"dag":307,"Minimum":3,"Maximum":12.7,"Gemiddelde":7},{"dag":308,"Minimum":3.3,"Maximum":12.6,"Gemiddelde":7.7},{"dag":309,"Minimum":3.6,"Maximum":12.3,"Gemiddelde":7.2},{"dag":310,"Minimum":7,"Maximum":11,"Gemiddelde":9},{"dag":311,"Minimum":3.5,"Maximum":8.7,"Gemiddelde":6.8},{"dag":312,"Minimum":3.6,"Maximum":5.4,"Gemiddelde":4.7},{"dag":313,"Minimum":4.9,"Maximum":7.7,"Gemiddelde":6.4},{"dag":314,"Minimum":6.8,"Maximum":10.6,"Gemiddelde":8.7},{"dag":315,"Minimum":8.7,"Maximum":13,"Gemiddelde":10.6},{"dag":316,"Minimum":6.9,"Maximum":10.5,"Gemiddelde":9},{"dag":317,"Minimum":5.1,"Maximum":12.5,"Gemiddelde":9.2},{"dag":318,"Minimum":6.9,"Maximum":11.6,"Gemiddelde":9.8},{"dag":319,"Minimum":6.8,"Maximum":11.1,"Gemiddelde":9.4},
{"dag":320,"Minimum":8,"Maximum":10.7,"Gemiddelde":9.2},{"dag":321,"Minimum":5.6,"Maximum":10.2,"Gemiddelde":7.1},{"dag":322,"Minimum":2.2,"Maximum":9.3,"Gemiddelde":5.4},{"dag":323,"Minimum":1.4,"Maximum":5.1,"Gemiddelde":4},{"dag":324,"Minimum":0.1,"Maximum":6.3,"Gemiddelde":3.4},{"dag":325,"Minimum":-1,"Maximum":5.6,"Gemiddelde":2.4},{"dag":326,"Minimum":0.7,"Maximum":7,"Gemiddelde":3.9},{"dag":327,"Minimum":1.1,"Maximum":9.6,"Gemiddelde":4.7},{"dag":328,"Minimum":9.6,"Maximum":16.7,"Gemiddelde":14.2},{"dag":329,"Minimum":5.6,"Maximum":16.2,"Gemiddelde":10},{"dag":330,"Minimum":2.4,"Maximum":10.6,"Gemiddelde":6.7},{"dag":331,"Minimum":3.6,"Maximum":11.4,"Gemiddelde":7.6},{"dag":332,"Minimum":2,"Maximum":9.4,"Gemiddelde":7},{"dag":333,"Minimum":-0.4,"Maximum":7.7,"Gemiddelde":3.3},{"dag":334,"Minimum":0.9,"Maximum":6.5,"Gemiddelde":3.9},{"dag":335,"Minimum":3.5,"Maximum":8.8,"Gemiddelde":6.8},{"dag":336,"Minimum":6.9,"Maximum":11.4,"Gemiddelde":9.4},{"dag":337,"Minimum":2,"Maximum":8,"Gemiddelde":6},{"dag":338,"Minimum":-0.7,"Maximum":5.9,"Gemiddelde":3.9},{"dag":339,"Minimum":4.4,"Maximum":12.2,"Gemiddelde":7.1},
{"dag":340,"Minimum":5,"Maximum":10.4,"Gemiddelde":8.3},{"dag":341,"Minimum":5.9,"Maximum":10.3,"Gemiddelde":7.5},{"dag":342,"Minimum":5.7,"Maximum":7.7,"Gemiddelde":6.8},{"dag":343,"Minimum":5.6,"Maximum":7,"Gemiddelde":6.1},{"dag":344,"Minimum":4.9,"Maximum":5.9,"Gemiddelde":5.2},{"dag":345,"Minimum":2.2,"Maximum":5,"Gemiddelde":3.7},{"dag":346,"Minimum":2.9,"Maximum":5.2,"Gemiddelde":3.9},{"dag":347,"Minimum":0.2,"Maximum":3.6,"Gemiddelde":1.8},{"dag":348,"Minimum":2,"Maximum":7,"Gemiddelde":4.9},{"dag":349,"Minimum":4.1,"Maximum":11.3,"Gemiddelde":9.4},{"dag":350,"Minimum":9.6,"Maximum":10.9,"Gemiddelde":10.3},{"dag":351,"Minimum":6.5,"Maximum":10,"Gemiddelde":8.3},{"dag":352,"Minimum":6.3,"Maximum":13.5,"Gemiddelde":10.6},{"dag":353,"Minimum":4.7,"Maximum":12.9,"Gemiddelde":8.1},{"dag":354,"Minimum":4,"Maximum":8.1,"Gemiddelde":6.4},{"dag":355,"Minimum":6.3,"Maximum":10.9,"Gemiddelde":8.7},{"dag":356,"Minimum":3.3,"Maximum":9.2,"Gemiddelde":6},{"dag":357,"Minimum":1.8,"Maximum":8.4,"Gemiddelde":6},{"dag":358,"Minimum":2.4,"Maximum":9.2,"Gemiddelde":6.4},{"dag":359,"Minimum":8.5,"Maximum":9.9,"Gemiddelde":9.2},
{"dag":360,"Minimum":4.3,"Maximum":8.6,"Gemiddelde":5},{"dag":361,"Minimum":1.1,"Maximum":4.7,"Gemiddelde":3.1},{"dag":362,"Minimum":1,"Maximum":3.5,"Gemiddelde":1.8},{"dag":363,"Minimum":3.3,"Maximum":7,"Gemiddelde":4.9},{"dag":364,"Minimum":5.8,"Maximum":8.7,"Gemiddelde":7.7},{"dag":365,"Minimum":3.4,"Maximum":8.7,"Gemiddelde":6.4}]},
"layer":[
{"data":{"name":"maanden"},"mark":{"type":"rect","fill":"#818cf8","opacity":0.03},"encoding":{"x":{"field":"van","type":"quantitative","scale":{"domain":[0,365],"nice":false,"zero":false},"axis":{"title":null,"values":[0,31,60,91,121,152,182,213,244,274,305,335],"tickCount":50,"labelExpr":"{'0':'jan','31':'feb','60':'mrt','91':'apr','121':'mei','152':'jun','182':'jul','213':'aug','244':'sep','274':'okt','305':'nov','335':'dec'}[datum.value]","grid":true,"gridColor":"#94a3b8","gridWidth":2.5,"domain":false,"ticks":false,"labelFontSize":30,"labelFontWeight":"bold","labelColor":"#334155","labelPadding":17,"labelFlush":false,"labelOverlap":false,"labelFont":"DejaVu Sans"}},"x2":{"field":"tot"},"y":{"datum":-7,"type":"quantitative","scale":{"domain":[-7,34],"nice":false,"zero":false},"axis":{"title":"Temperatuur (°C)","titleFontSize":36,"titleFontWeight":"bold","titleColor":"#334155","titlePadding":32,"titleFont":"DejaVu Sans","values":[-7,-6,-5,-4,-3,-2,-1,0,1,2,3,4,5,6,7,8,9,10,11,12,13,14,15,16,17,18,19,20,21,22,23,24,25,26,27,28,29,30,31,32,33,34],"tickCount":100,"labelExpr":"datum.value % 5 === 0 ? datum.value : ''","labelFontSize":30.5,"labelFontWeight":"bold","labelColor":"#334155","labelPadding":16,"labelOffset":2,"labelFont":"DejaVu Sans","labelOverlap":false,"domain":false,"tickSize":4,"tickWidth":1.5,"tickColor":{"condition":{"test":"datum.value % 5 === 0","value":"transparent"},"value":"#1e293b"},"grid":true,"gridColor":{"condition":[{"test":"datum.value === 34 || datum.value === -7","value":"transparent"},{"test":"datum.value === 0","value":"#94a3b8"},{"test":"datum.value % 5 === 0","value":"#bac6d8"}],"value":"#e5ebf3"},"gridWidth":{"condition":{"test":"datum.value % 5 === 0","value":2.5},"value":2}}},"y2":{"datum":34}}},
{"data":{"name":"normaal"},"mark":{"type":"area","color":"#93c5fd","opacity":0.1},"encoding":{"x":{"field":"dag","type":"quantitative"},"y":{"field":"Normaal min","type":"quantitative"},"y2":{"field":"Normaal max"}}},
{"data":{"name":"normaal"},"transform":[{"fold":["Normaal min","Normaal max","Normaal gem"],"as":["reeks","temp"]}],"mark":{"type":"line","strokeWidth":4,"strokeCap":"butt","strokeJoin":"round"},"encoding":{"x":{"field":"dag","type":"quantitative"},"y":{"field":"temp","type":"quantitative"},"color":{"field":"reeks","type":"nominal","scale":{"domain":["Minimum","Normaal min","Maximum","Normaal max","Gemiddelde","Normaal gem"],"range":["#60a5fa","#a5cdfb","#f87171","#fcb0b0","#64748b","#a3aebd"]}},"strokeDash":{"field":"reeks","type":"nominal","scale":{"domain":["Minimum","Normaal min","Maximum","Normaal max","Gemiddelde","Normaal gem"],"range":[[1,0],[10,7],[1,0],[10,7],[1,0],[10,7]]}}}},
{"data":{"name":"metingen"},"transform":[{"fold":["Maximum","Gemiddelde","Minimum"],"as":["reeks","temp"]}],"mark":{"type":"line","strokeWidth":5,"strokeCap":"round","strokeJoin":"round"},"encoding":{"x":{"field":"dag","type":"quantitative"},"y":{"field":"temp","type":"quantitative"},"color":{"field":"reeks","type":"nominal","scale":{"domain":["Minimum","Normaal min","Maximum","Normaal max","Gemiddelde","Normaal gem"],"range":["#60a5fa","#a5cdfb","#f87171","#fcb0b0","#64748b","#a3aebd"]},"legend":{"orient":"none","legendX":7,"legendY":-67,"direction":"horizontal","columns":6,"title":null,"padding":0,"symbolType":"stroke","symbolSize":4500,"symbolStrokeWidth":4.5,"symbolOpacity":1,"labelFontSize":27,"labelFontWeight":"bold","labelColor":"#1e293b","labelFont":"DejaVu Sans","labelOffset":9,"labelLimit":600,"columnPadding":16.5,"labelExpr":"datum.label === 'Normaal min' ? 'Normaal\u00a0\u00a0\u2800\u2800' : datum.label === 'Normaal max' ? 'Normaal\u00a0\u00a0\u2800\u2800\u2800' : datum.label === 'Normaal gem' ? 'Normaal' : datum.label"}},"strokeDash":{"field":"reeks","type":"nominal","scale":{"domain":["Minimum","Normaal min","Maximum","Normaal max","Gemiddelde","Normaal gem"],"range":[[1,0],[10,7],[1,0],[10,7],[1,0],[10,7]]}}}},
{"data":{"name":"koptekst"},"mark":{"type":"text","align":"right","baseline":"alphabetic","dy":-100,"font":"DejaVu Sans","fontSize":32.5,"fontWeight":"bold","color":"#0f172a"},"encoding":{"text":{"field":"tekst"},"x":{"datum":365,"type":"quantitative"},"y":{"datum":34,"type":"quantitative"}}}
]}
